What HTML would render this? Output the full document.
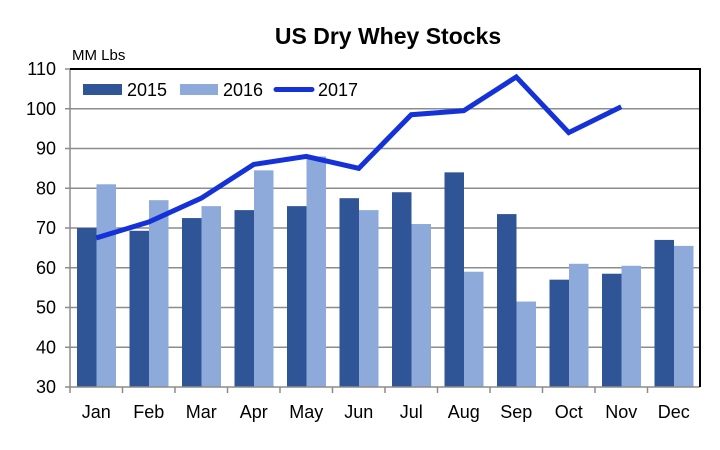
<!DOCTYPE html>
<html><head><meta charset="utf-8"><style>
html,body{margin:0;padding:0;background:#fff;}
svg{display:block;font-family:"Liberation Sans",Arial,sans-serif;}
</style></head><body>
<svg id="chart" width="720" height="450" viewBox="0 0 720 450">
<text x="388" y="44" text-anchor="middle" font-size="23" font-weight="bold">US Dry Whey Stocks</text>
<text x="72" y="60" font-size="15">MM Lbs</text>
<g id="grid"></g><g id="bars"></g><g id="line"></g><g id="axes"></g>
<g>
<rect x="83" y="84" width="39" height="11" fill="#2f5597"/>
<text x="127" y="96" font-size="18">2015</text>
<rect x="180" y="84" width="38" height="11" fill="#8eaadb"/>
<text x="223" y="96" font-size="18">2016</text>
<line x1="276" y1="89.5" x2="312" y2="89.5" stroke="#1432d8" stroke-width="5" stroke-linecap="round"/>
<text x="318" y="96" font-size="18">2017</text>
</g>
</svg>
<script>
const months=["Jan","Feb","Mar","Apr","May","Jun","Jul","Aug","Sep","Oct","Nov","Dec"];
const s2015=[70,69.3,72.5,74.5,75.5,77.5,79,84,73.5,57,58.5,67];
const s2016=[81,77,75.5,84.5,88,74.5,71,59,51.5,61,60.5,65.5];
const s2017=[67.5,71.5,77.5,86,88,85,98.5,99.5,108,94,100.5];
const yTicks=[30,40,50,60,70,80,90,100,110];
const NS="http://www.w3.org/2000/svg";
const L=70,R=700,T=69,B=387,yMin=30,yMax=110;
const bw=(R-L)/months.length;
function y(v){return B-(v-yMin)/(yMax-yMin)*(B-T);}
function x(i){return L+i*bw;}
function mk(tag,attrs,parent,text){const e=document.createElementNS(NS,tag);for(const k in attrs)e.setAttribute(k,attrs[k]);if(text!==undefined)e.textContent=text;document.getElementById(parent).appendChild(e);return e;}
yTicks.forEach(t=>{
  if(t!==yMin&&t!==yMax){const g=mk("line",{x1:L,x2:R,y1:y(t),y2:y(t),stroke:"#8c8c8c","stroke-width":1.5},"grid");
  
  }
  const tl=mk("text",{x:56,y:y(t)+6,"text-anchor":"end","font-size":18},"axes",t);
  
  
  const tk=mk("line",{x1:L-5,x2:L,y1:y(t),y2:y(t),stroke:"#8c8c8c","stroke-width":1.5},"axes");
  
  
});
months.forEach((m,i)=>{
  const b1=mk("rect",{x:x(i)+7,y:y(s2015[i]),width:19.5,height:B-y(s2015[i]),fill:"#2f5597"},"bars");
  
  
  const b2=mk("rect",{x:x(i)+26.5,y:y(s2016[i]),width:19.5,height:B-y(s2016[i]),fill:"#8eaadb"},"bars");
  
  
  const xl=mk("text",{x:x(i)+bw/2,y:418,"text-anchor":"middle","font-size":18},"axes",m);
  
  
  const xt=mk("line",{x1:x(i),x2:x(i),y1:B,y2:B+6,stroke:"#8c8c8c","stroke-width":1.5},"axes");
  
  
});
const pts=s2017.map((v,i)=>(x(i)+bw/2)+","+y(v)).join(" ");
const pl=mk("polyline",{points:pts,fill:"none",stroke:"#1432d8","stroke-width":5,"stroke-linejoin":"miter"},"line");


const ax=mk("line",{x1:L,x2:R,y1:B,y2:B,stroke:"#8c8c8c","stroke-width":1.5},"axes");


const ya=mk("line",{x1:L,x2:L,y1:T,y2:B,stroke:"#8c8c8c","stroke-width":1.5},"axes");


const fr1=mk("polyline",{points:L+","+T+" "+R+","+T+" "+R+","+B,fill:"none",stroke:"#000","stroke-width":2},"axes");


</script>
</body></html>
